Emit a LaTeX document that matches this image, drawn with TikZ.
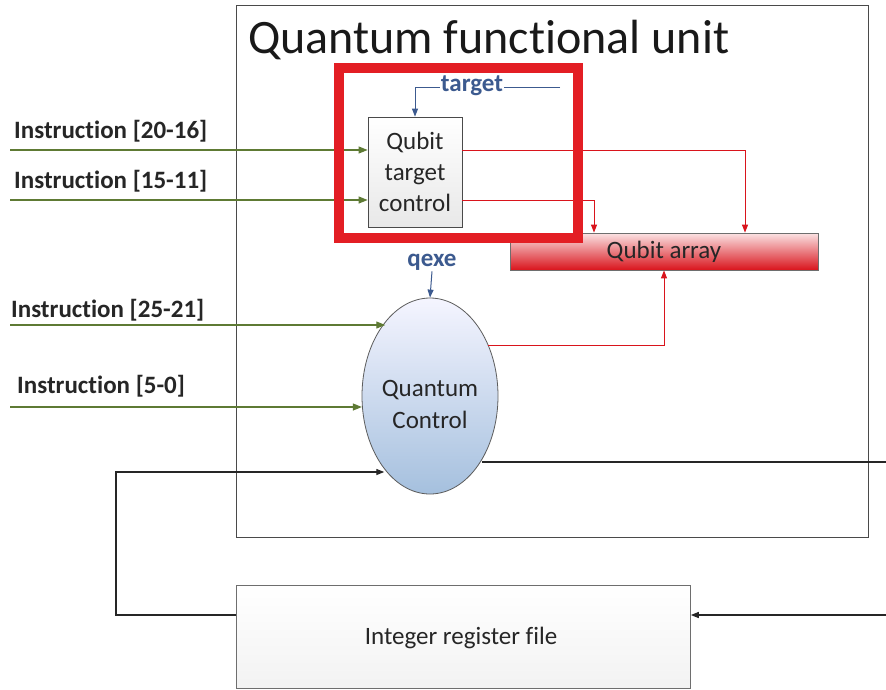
\documentclass[tikz,border=0pt]{standalone}
\usepackage{fontspec}
\setmainfont{Carlito}[Ligatures=NoCommon]
\usetikzlibrary{arrows.meta,shapes.geometric}
\definecolor{olivec}{HTML}{5E7A34}
\definecolor{lblue}{HTML}{3C5A8F}
\definecolor{qred}{HTML}{D9141C}
\definecolor{boxred}{HTML}{E31E24}
\definecolor{frame}{HTML}{4A4A4A}
\begin{document}
\begin{tikzpicture}[x=1pt,y=-1pt,
  tipo/.style={-{Triangle[length=9pt,width=7pt]}},
  tips/.style={-{Triangle[length=8pt,width=6pt]}},
  inlabel/.style={font=\fontsize{25}{30}\selectfont\bfseries, anchor=west, text=black!85, inner sep=0pt},
  bluelabel/.style={font=\fontsize{25}{30}\selectfont\bfseries, text=lblue, inner sep=1pt},
  olivewire/.style={olivec, line width=1.1pt, tipo},
  redwire/.style={qred, line width=1pt, tips},
  blackwire/.style={black!85, line width=1.3pt},
  bodytext/.style={font=\fontsize{25}{31}\selectfont, text=black!85},
]
\useasboundingbox (0,0) rectangle (886,689);
\fill[white] (0,0) rectangle (886,689);

% outer frame
\node[draw=frame, line width=1pt, minimum width=632pt, minimum height=532pt, inner sep=0pt, anchor=north west] (qfu) at (236,5) {};
\node[font=\fontsize{48}{56}\selectfont, anchor=west, inner sep=0pt, text=black!90] (title) at (248,40) {Quantum functional unit};

% nodes
\node[draw=frame, line width=0.8pt, top color=white, bottom color=gray!18, minimum width=94pt, minimum height=110pt, inner sep=0pt, align=center, bodytext] (qtc) at (415,172) {Qubit\\target\\control};

\node[draw=frame!80, line width=0.8pt, top color=qred!12, bottom color=qred, minimum width=308pt, minimum height=37pt, inner sep=0pt, bodytext] (qarr) at (664,251.5) {Qubit array};

\node[ellipse, draw=frame!90, line width=0.8pt, top color=blue!4!white, bottom color={rgb,255:red,165;green,192;blue,222}, minimum width=136pt, minimum height=196pt, inner sep=0pt] (qc) at (430,396) {};
\node[align=center, font=\fontsize{25}{32}\selectfont, text=black!85] (qct) at (430,404) {Quantum\\Control};

\node[draw=frame!80, line width=0.8pt, top color=white, bottom color=gray!10, minimum width=454pt, minimum height=103pt, inner sep=0pt, anchor=north west] (irf) at (236,585) {};
\node[bodytext] (irft) at (461,638) {Integer register file};

% instruction inputs
\coordinate (i1) at (10,150);
\coordinate (i2) at (10,200);
\coordinate (i3) at (10,325);
\coordinate (i4) at (10,407);
\node[inlabel] (l1) at (14,131) {Instruction [20-16]};
\node[inlabel] (l2) at (14,181) {Instruction [15-11]};
\node[inlabel] (l3) at (11,310) {Instruction [25-21]};
\node[inlabel] (l4) at (17,386) {Instruction [5-0]};
\draw[olivewire] (i1) -- (qtc.west |- i1);
\draw[olivewire] (i2) -- (qtc.west |- i2);
\draw[olivewire] (i3) -- (qc.121.9 |- i3);
\draw[olivewire] (i4) -- (qc.187.6 |- i4);

% target
\coordinate (t0) at (560,87);
\draw[lblue, line width=1pt, tips] (t0) -| (qtc.north);
\node[bluelabel, fill=white] (tgt) at (472,86) {target};

% qexe
\node[bluelabel] (qx) at (432,262) {qexe};
\draw[lblue, line width=1pt, tips] (qx.south) -- (qc.north);

% red outputs
\coordinate (a1) at (745,0);
\coordinate (a2) at (594,0);
\draw[redwire] (qtc.east |- i1) -| (a1 |- qarr.north);
\draw[redwire] (qtc.east |- i2) -| (a2 |- qarr.north);
\coordinate (a3) at (664,345);
\draw[redwire] (qc.42.9 |- a3) -| (a3 |- qarr.south);

% black feedback lines
\coordinate (r1) at (886,462);
\coordinate (r2) at (886,615);
\coordinate (b1) at (116,472);
\draw[blackwire] (qc.-51.2 |- r1) -- (r1);
\draw[blackwire, tips] (r2) -- (irf.east |- r2);
\draw[blackwire, tips] (irf.west |- r2) -| (b1) -- (qc.238.9 |- b1);

% highlight box
\node[draw=boxred, line width=10pt, minimum width=239pt, minimum height=170pt, inner sep=0pt] (hl) at (458.5,153) {};
\end{tikzpicture}
\end{document}
